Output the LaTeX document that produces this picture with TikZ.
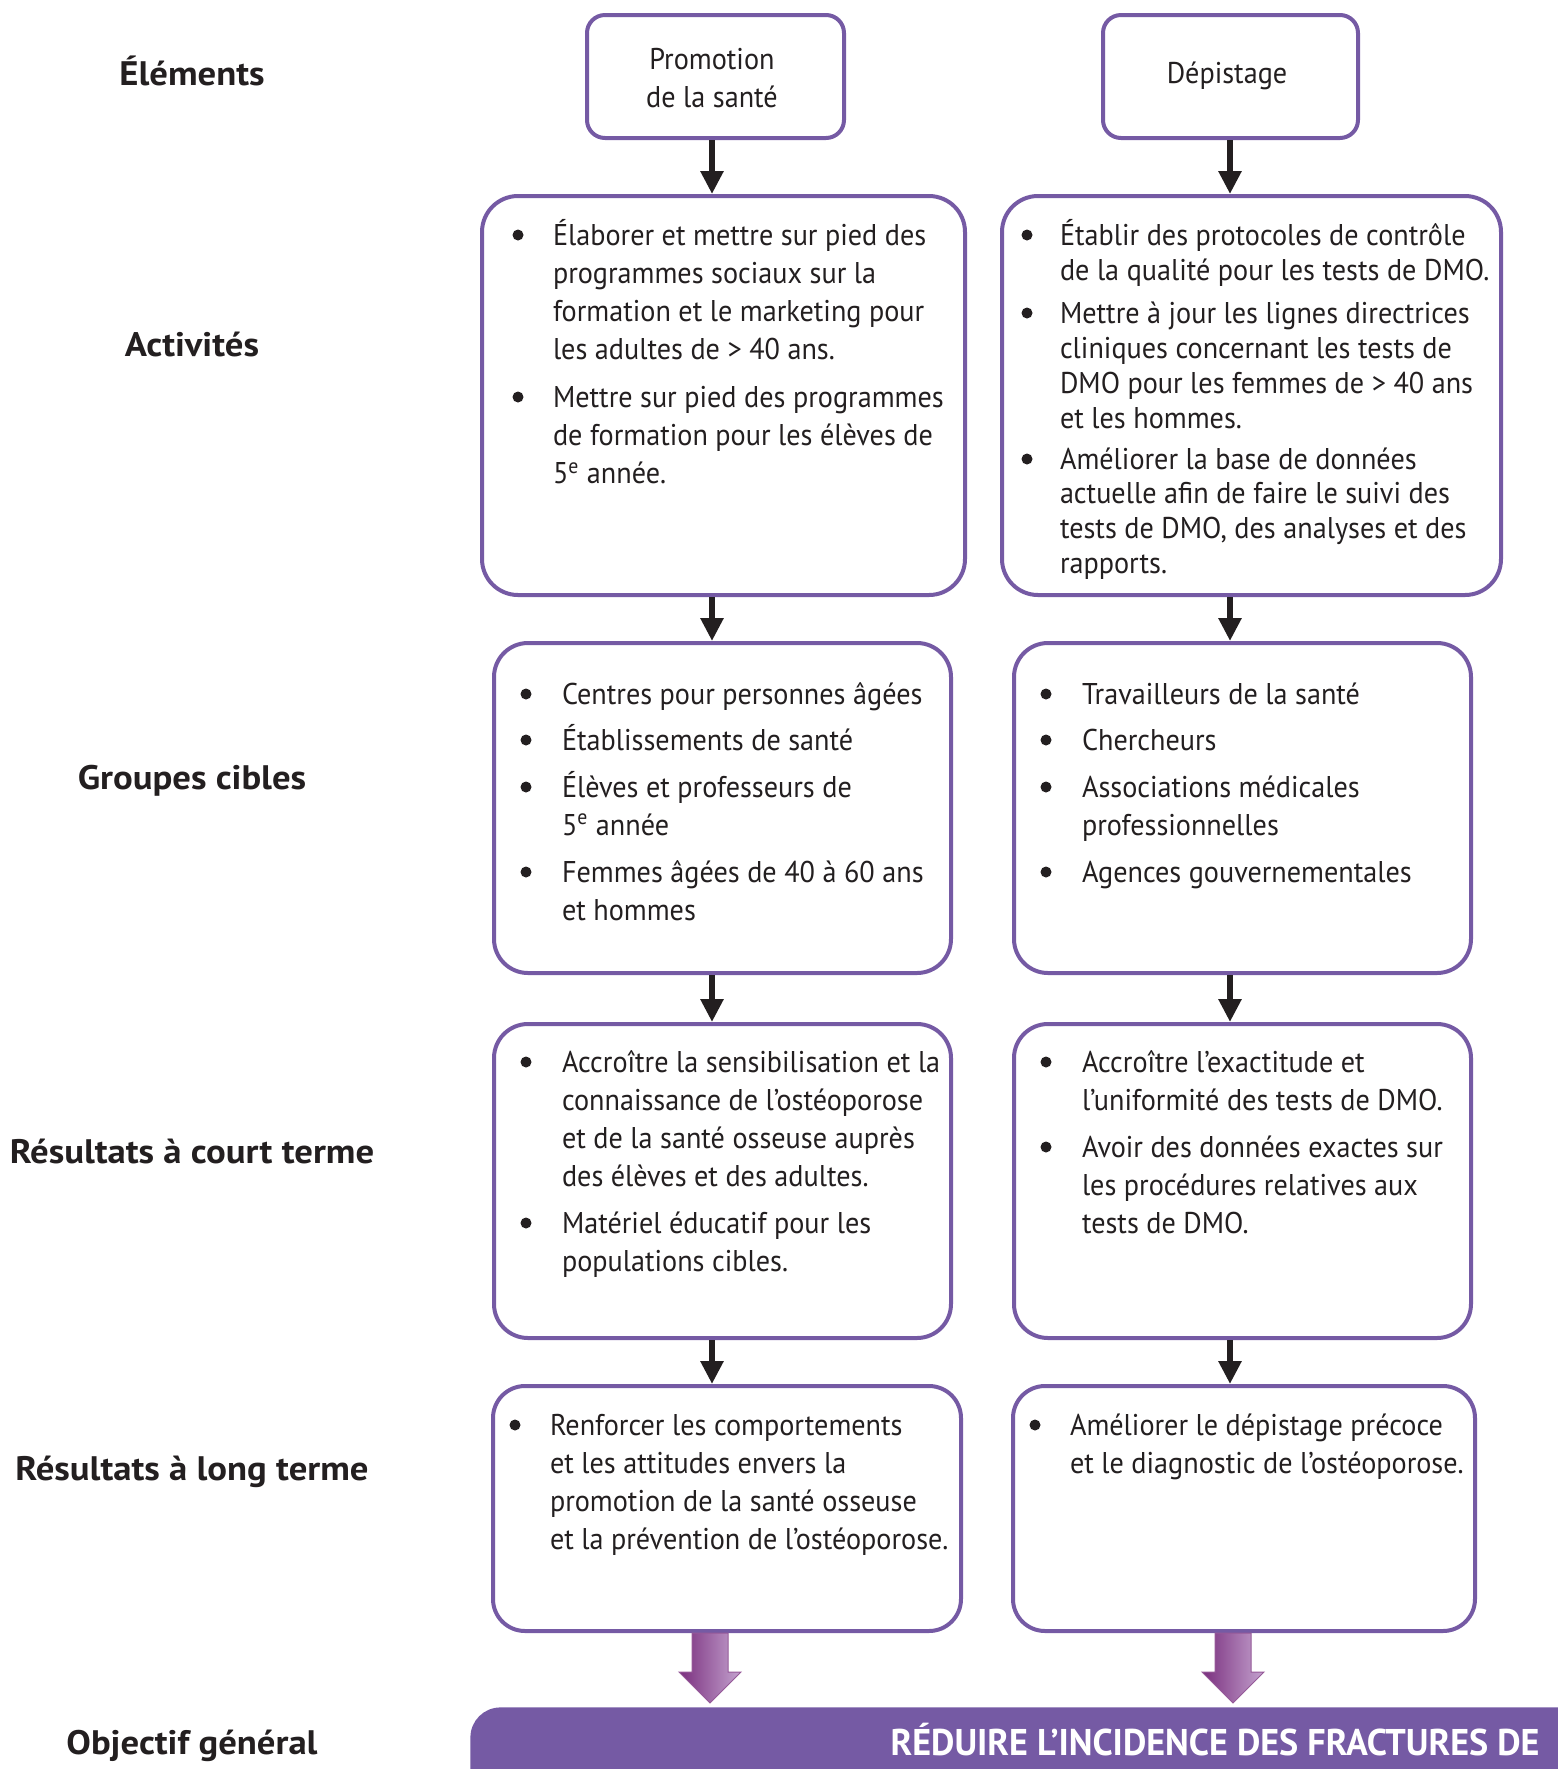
\documentclass[tikz,border=0pt]{standalone}
\usepackage{fontspec}
\setmainfont{PT Sans}[FakeStretch=0.94]
\newfontfamily\labelfont{PT Sans}[FakeStretch=1.08]
\newfontfamily\bannerfont{PT Sans}[FakeStretch=0.97]
\usetikzlibrary{arrows.meta,calc}
\definecolor{pborder}{RGB}{117,90,164}
\definecolor{ink}{RGB}{35,31,32}
\definecolor{adark}{RGB}{122,47,126}
\definecolor{alight}{RGB}{196,163,207}
\newcommand\mkbox[6]{%
  \pgfmathsetmacro\bw{(#4-#2-4)*0.5}%
  \pgfmathsetmacro\bh{(#5-#3-4)*0.5}%
  \node[pbox, rounded corners=#6pt, minimum width=\bw pt, minimum height=\bh pt] (#1) at ({(#2+#4)/2},{(#3+#5)/2}) {};}
\newcommand\plines[5]{%
  \foreach \ln [count=\i from 0] in {#5}{%
    \node[txt, anchor=base west] (#1-\i) at (#2,{#3+\i*#4}) {\ln};}}
\newcommand\bul[2]{\fill[ink] (#1,{#2-10}) circle[radius=5.5];}
\begin{document}
\begin{tikzpicture}[x=0.5pt,y=-0.5pt,
  pbox/.style={draw=pborder, line width=2pt, fill=white, inner sep=0pt},
  txt/.style={font=\fontsize{15}{18}\selectfont, text=ink, inner sep=0pt, outer sep=0pt},
  lab/.style={font=\labelfont\bfseries\fontsize{17}{20}\selectfont, text=ink, anchor=base, inner sep=0pt},
  blk/.style={draw=ink, line width=3pt, -{Triangle[width=11pt,length=11.5pt]}},
  parrow/.style={left color=adark, right color=alight, draw=adark!80, line width=0.5pt}]
\useasboundingbox (0,0) rectangle (1558,1769);
\clip (0,0) rectangle (1558,1769);

% column axes
\coordinate (cL) at (712,0);
\coordinate (cR) at (1230,0);
\coordinate (pL) at (710,0);
\coordinate (pR) at (1233,0);

% left labels
\node[lab] (l1) at (192,85) {Éléments};
\node[lab] (l2) at (192,356) {Activités};
\node[lab] (l3) at (192,789) {Groupes cibles};
\node[lab] (l4) at (192,1163) {Résultats à court terme};
\node[lab] (l5) at (192,1480) {Résultats à long terme};
\node[lab] (l6) at (192,1754) {Objectif général};

% boxes
\mkbox{pr}{585}{13}{846}{140}{9}
\mkbox{de}{1101}{13}{1360}{140}{9}
\mkbox{al}{480}{194}{967}{597}{18}
\mkbox{ar}{1000}{194}{1503}{597}{18}
\mkbox{gl}{492}{641}{953}{975}{17}
\mkbox{gr}{1012}{641}{1473}{975}{17}
\mkbox{cl}{492}{1022}{953}{1340}{17}
\mkbox{cr}{1012}{1022}{1473}{1340}{17}
\mkbox{ll}{491}{1384}{963}{1633}{16}
\mkbox{lr}{1011}{1384}{1477}{1633}{16}

% banner
\node[fill=pborder, rounded corners=15pt, minimum width=575pt, minimum height=60pt, anchor=north west, inner sep=0pt] (goal) at (470,1707) {};
\node[font=\bannerfont\bfseries\fontsize{18.6}{22}\selectfont, text=white, anchor=base east, inner sep=0pt] (goaltxt) at (1540,1755) {RÉDUIRE L’INCIDENCE DES FRACTURES DE};

% top box texts
\node[txt, anchor=base] (prt1) at (712,69) {Promotion};
\node[txt, anchor=base] (prt2) at (712,107) {de la santé};
\node[txt, anchor=base] (det) at (1227,83) {Dépistage};

% activities left
\bul{518}{245}
\plines{alA}{553}{245}{38.3}{Élaborer et mettre sur pied des, programmes sociaux sur la, formation et le marketing pour, les adultes de > 40 ans.}
\bul{518}{407}
\plines{alB}{553}{407}{38.3}{Mettre sur pied des programmes, de formation pour les élèves de, 5\textsuperscript{e} année.}

% activities right
\bul{1027}{245}
\plines{arA}{1060}{245}{35}{Établir des protocoles de contrôle, de la qualité pour les tests de DMO.}
\bul{1027}{323}
\plines{arB}{1060}{323}{35}{Mettre à jour les lignes directrices, cliniques concernant les tests de, DMO pour les femmes de > 40 ans, et les hommes.}
\bul{1027}{469}
\plines{arC}{1060}{469}{34.7}{Améliorer la base de données, actuelle afin de faire le suivi des, {tests de DMO, des analyses et des}, rapports.}

% target groups left
\bul{526}{704}
\plines{glA}{562}{704}{38}{Centres pour personnes âgées}
\bul{526}{750}
\plines{glB}{562}{750}{38}{Établissements de santé}
\bul{526}{797}
\plines{glC}{562}{797}{38}{Élèves et professeurs de, 5\textsuperscript{e} année}
\bul{526}{882}
\plines{glD}{562}{882}{38}{Femmes âgées de 40 à 60 ans, et hommes}

% target groups right
\bul{1046}{704}
\plines{grA}{1082}{704}{38}{Travailleurs de la santé}
\bul{1046}{750}
\plines{grB}{1082}{750}{38}{Chercheurs}
\bul{1046}{797}
\plines{grC}{1082}{797}{38}{Associations médicales, professionnelles}
\bul{1046}{882}
\plines{grD}{1082}{882}{38}{Agences gouvernementales}

% short term left
\bul{526}{1072}
\plines{clA}{562}{1072}{38.3}{Accroître la sensibilisation et la, connaissance de l’ostéoporose, et de la santé osseuse auprès, des élèves et des adultes.}
\bul{526}{1233}
\plines{clB}{562}{1233}{38.5}{Matériel éducatif pour les, populations cibles.}

% short term right
\bul{1046}{1072}
\plines{crA}{1082}{1072}{38}{Accroître l’exactitude et, l’uniformité des tests de DMO.}
\bul{1046}{1157}
\plines{crB}{1082}{1157}{38}{Avoir des données exactes sur, les procédures relatives aux, tests de DMO.}

% long term
\bul{515}{1435}
\plines{llA}{550}{1435}{38.3}{Renforcer les comportements, et les attitudes envers la, promotion de la santé osseuse, et la prévention de l’ostéoporose.}
\bul{1035}{1435}
\plines{lrA}{1070}{1435}{38}{Améliorer le dépistage précoce, et le diagnostic de l’ostéoporose.}

% black arrows
\draw[blk] (pr.south -| cL) -- (al.north -| cL);
\draw[blk] (al.south -| cL) -- (gl.north -| cL);
\draw[blk] (gl.south -| cL) -- (cl.north -| cL);
\draw[blk] (cl.south -| cL) -- (ll.north -| cL);
\draw[blk] (de.south -| cR) -- (ar.north -| cR);
\draw[blk] (ar.south -| cR) -- (gr.north -| cR);
\draw[blk] (gr.south -| cR) -- (cr.north -| cR);
\draw[blk] (cr.south -| cR) -- (lr.north -| cR);

% purple block arrows
\coordinate (tL) at (ll.south -| pL);
\coordinate (tR) at (lr.south -| pR);
\coordinate (hL) at ($(goal.north -| pL)+(0,-4)$);
\coordinate (hR) at ($(goal.north -| pR)+(0,-4)$);
\path[parrow] ($(tL)+(-18,0)$) -- ($(tL)+(18,0)$) -- ($(tL)+(18,39)$) -- ($(tL)+(31,39)$) -- (hL) -- ($(tL)+(-31,39)$) -- ($(tL)+(-18,39)$) -- cycle;
\path[parrow] ($(tR)+(-18,0)$) -- ($(tR)+(18,0)$) -- ($(tR)+(18,39)$) -- ($(tR)+(31,39)$) -- (hR) -- ($(tR)+(-31,39)$) -- ($(tR)+(-18,39)$) -- cycle;
\end{tikzpicture}
\end{document}
